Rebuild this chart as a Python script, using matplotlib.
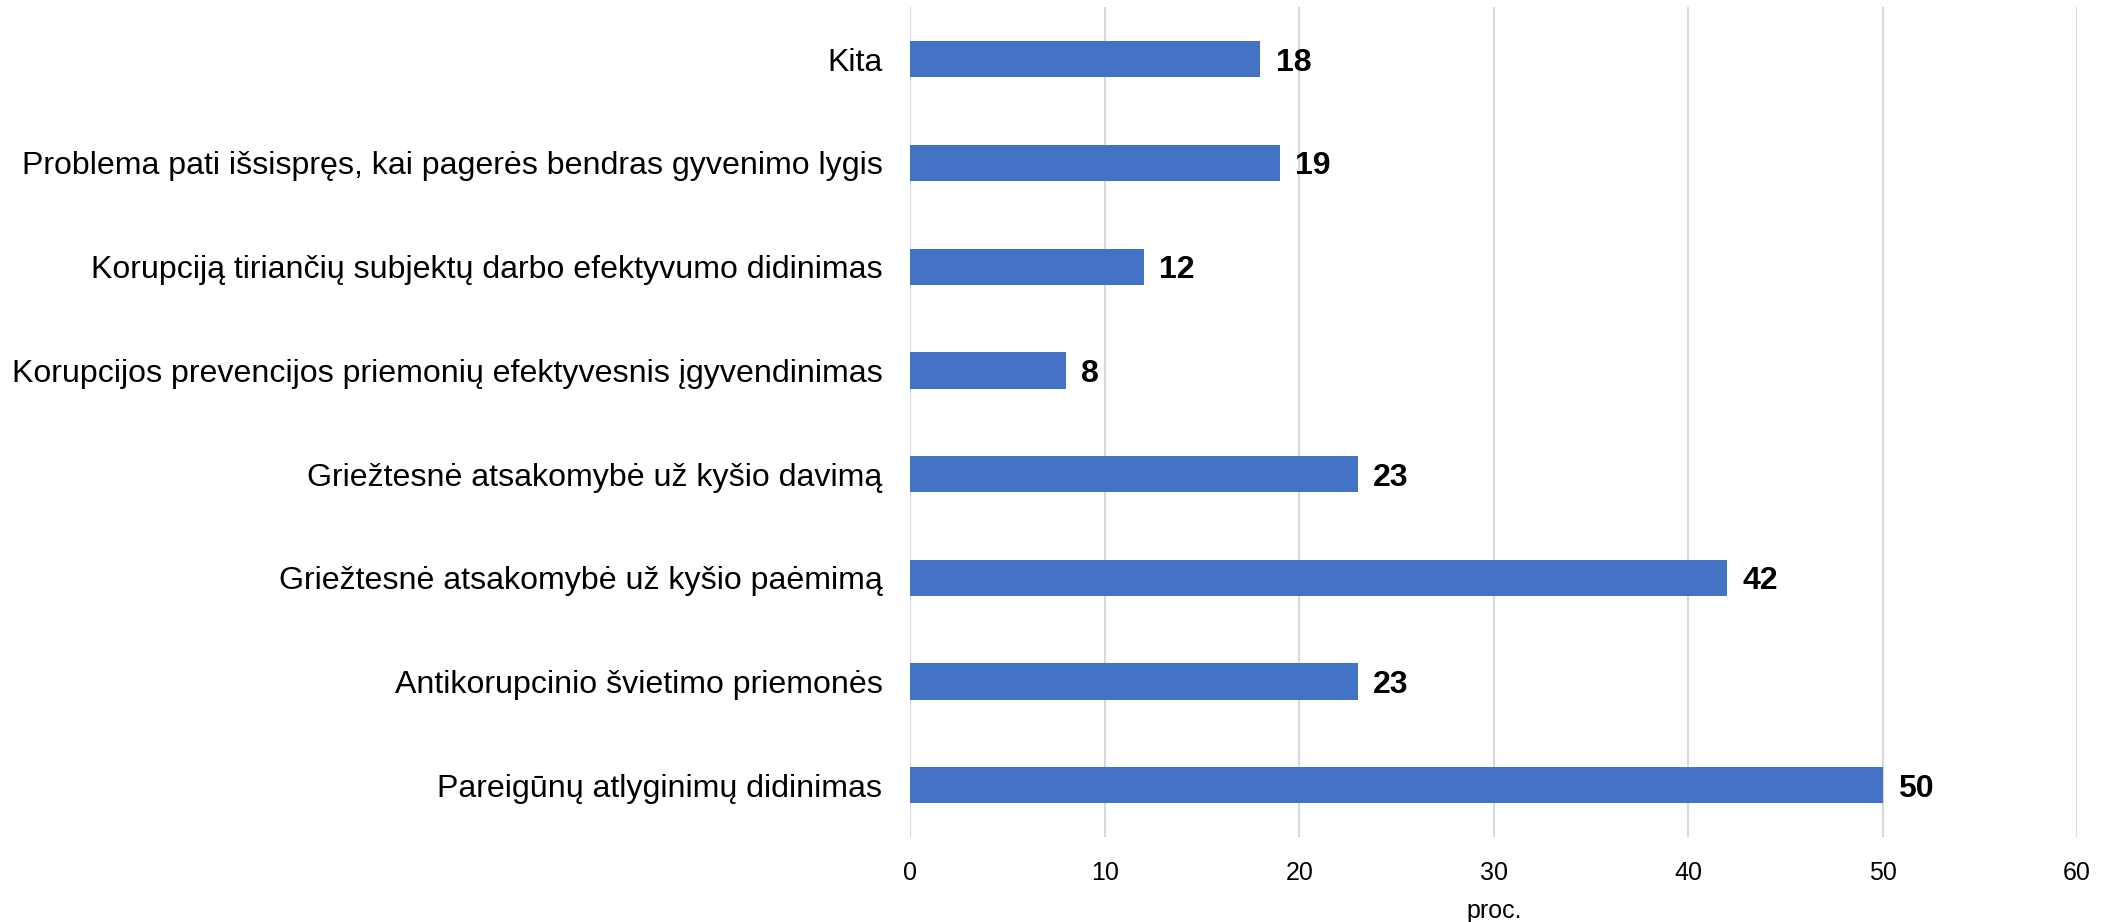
import matplotlib
matplotlib.use('Agg')
import matplotlib.pyplot as plt

# Data (top to bottom in the chart)
categories = [
    'Kita',
    'Problema pati išsispręs, kai pagerės bendras gyvenimo lygis',
    'Korupciją tiriančių subjektų darbo efektyvumo didinimas',
    'Korupcijos prevencijos priemonių efektyvesnis įgyvendinimas',
    'Griežtesnė atsakomybė už kyšio davimą',
    'Griežtesnė atsakomybė už kyšio paėmimą',
    'Antikorupcinio švietimo priemonės',
    'Pareigūnų atlyginimų didinimas',
]
values = [18, 19, 12, 8, 23, 42, 23, 50]
xticks = [0, 10, 20, 30, 40, 50, 60]

plt.rcParams['font.family'] = ['Liberation Sans', 'DejaVu Sans']

fig = plt.figure(figsize=(21.12, 9.22), dpi=100)
ax = fig.add_axes([0.431, 0.092, 0.5525, 0.900])

ypos = list(range(len(categories)))[::-1]
bars = ax.barh(ypos, values, height=0.35, color='#4472C4', zorder=3)

for y, v in zip(ypos, values):
    ax.text(v + 0.8, y, str(v), va='center_baseline', ha='left',
            fontsize=23, fontweight='bold', color='black')

ax.set_yticks(ypos)
ax.set_yticklabels(categories, fontsize=23.1)
ax.set_xticks(xticks)
ax.set_xticklabels([str(t) for t in xticks], fontsize=18)
ax.set_xlim(0, 60)
ax.set_ylim(-0.5, len(categories) - 0.5)

ax.grid(axis='x', color='#d9d9d9', linewidth=1.5, zorder=0)
for s in ax.spines.values():
    s.set_visible(False)
ax.tick_params(axis='both', length=0)
ax.tick_params(axis='y', pad=20)
ax.tick_params(axis='x', pad=17)
ax.set_xlabel('proc.', fontsize=18, labelpad=10)

fig.savefig('out.png', dpi=100)
